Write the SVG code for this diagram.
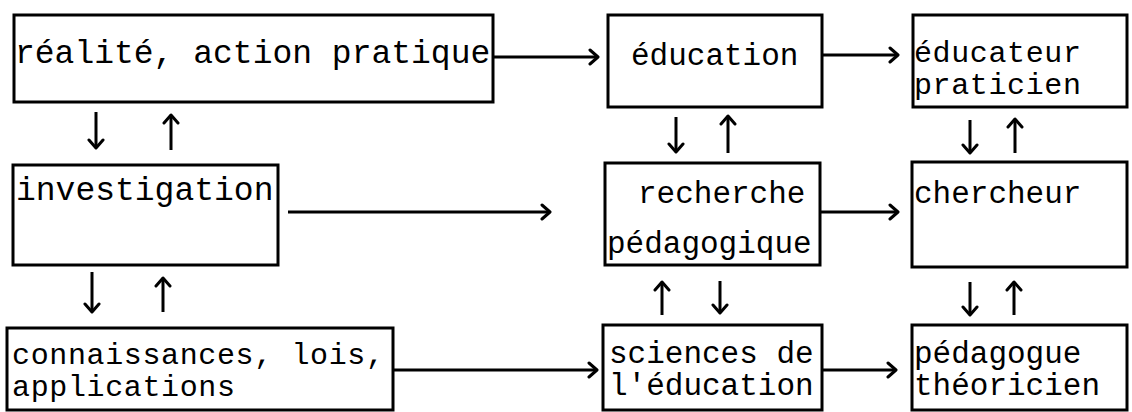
<svg xmlns="http://www.w3.org/2000/svg" width="1132" height="412" viewBox="0 0 1132 412">
<style>
.box{fill:#fff;stroke:#000;stroke-width:3}
.t{font-family:"Liberation Mono","Courier New",monospace;font-size:31px;fill:#000}
.ts{font-family:"Liberation Mono","Courier New",monospace;font-size:30px;fill:#000}
.tb{font-family:"Liberation Mono","Courier New",monospace;font-size:33px;fill:#000}
.c{fill:none;stroke:#000;stroke-width:3}
</style>
<defs>
<marker id="ah" markerUnits="userSpaceOnUse" markerWidth="20" markerHeight="20" viewBox="-10 -10 20 20" refX="0" refY="0" orient="auto">
<path d="M-8,-7 L0,0 L-8,7" fill="none" stroke="#000" stroke-width="3" stroke-linecap="round" stroke-linejoin="round"/>
</marker>
</defs>
<rect width="1132" height="412" fill="#fff"/>
<g id="n1"><rect class="box" x="14" y="15" width="479" height="87"/><text class="tb" x="15" y="63">réalité, action pratique</text></g>
<g id="n2"><rect class="box" x="13" y="165" width="265" height="100"/><text class="tb" x="16" y="200">investigation</text></g>
<g id="n3"><rect class="box" x="7" y="328" width="386" height="82"/><text class="ts" x="12" y="364" textLength="372" lengthAdjust="spacing">connaissances, lois,</text><text class="ts" x="12" y="396" textLength="223" lengthAdjust="spacing">applications</text></g>
<g id="n4"><rect class="box" x="608" y="15" width="214" height="92"/><text class="t" x="631" y="65">éducation</text></g>
<g id="n5"><rect class="box" x="913" y="15" width="214" height="92"/><text class="ts" x="914" y="62" textLength="167" lengthAdjust="spacing">éducateur</text><text class="ts" x="914" y="94" textLength="167" lengthAdjust="spacing">praticien</text></g>
<g id="n6"><rect class="box" x="605" y="163" width="215" height="102"/><text class="t" x="638" y="203">recherche</text><text class="t" x="607" y="253">pédagogique</text></g>
<g id="n7"><rect class="box" x="912" y="162" width="215" height="105"/><text class="t" x="914" y="203">chercheur</text></g>
<g id="n8"><rect class="box" x="603" y="325" width="219" height="85"/><text class="t" x="609" y="363">sciences de</text><text class="t" x="609" y="395">l'éducation</text></g>
<g id="n9"><rect class="box" x="912" y="325" width="215" height="85"/><text class="t" x="914" y="363">pédagogue</text><text class="t" x="914" y="395">théoricien</text></g>
<g id="connectors">
<line class="c" x1="494" y1="57" x2="598" y2="57" marker-end="url(#ah)"/>
<line class="c" x1="823" y1="55" x2="898" y2="55" marker-end="url(#ah)"/>
<line class="c" x1="288" y1="212" x2="550" y2="212" marker-end="url(#ah)"/>
<line class="c" x1="821" y1="212" x2="898" y2="212" marker-end="url(#ah)"/>
<line class="c" x1="394" y1="370" x2="597" y2="370" marker-end="url(#ah)"/>
<line class="c" x1="823" y1="370" x2="896" y2="370" marker-end="url(#ah)"/>
<line class="c" x1="96" y1="112" x2="96" y2="148" marker-end="url(#ah)"/>
<line class="c" x1="171" y1="150" x2="171" y2="115" marker-end="url(#ah)"/>
<line class="c" x1="92" y1="272" x2="92" y2="312" marker-end="url(#ah)"/>
<line class="c" x1="163" y1="312" x2="163" y2="278" marker-end="url(#ah)"/>
<line class="c" x1="676" y1="117" x2="676" y2="152" marker-end="url(#ah)"/>
<line class="c" x1="728" y1="153" x2="728" y2="116" marker-end="url(#ah)"/>
<line class="c" x1="662" y1="315" x2="662" y2="282" marker-end="url(#ah)"/>
<line class="c" x1="720" y1="281" x2="720" y2="313" marker-end="url(#ah)"/>
<line class="c" x1="970" y1="120" x2="970" y2="153" marker-end="url(#ah)"/>
<line class="c" x1="1015" y1="153" x2="1015" y2="119" marker-end="url(#ah)"/>
<line class="c" x1="970" y1="282" x2="970" y2="315" marker-end="url(#ah)"/>
<line class="c" x1="1014" y1="315" x2="1014" y2="282" marker-end="url(#ah)"/>
</g>
</svg>
